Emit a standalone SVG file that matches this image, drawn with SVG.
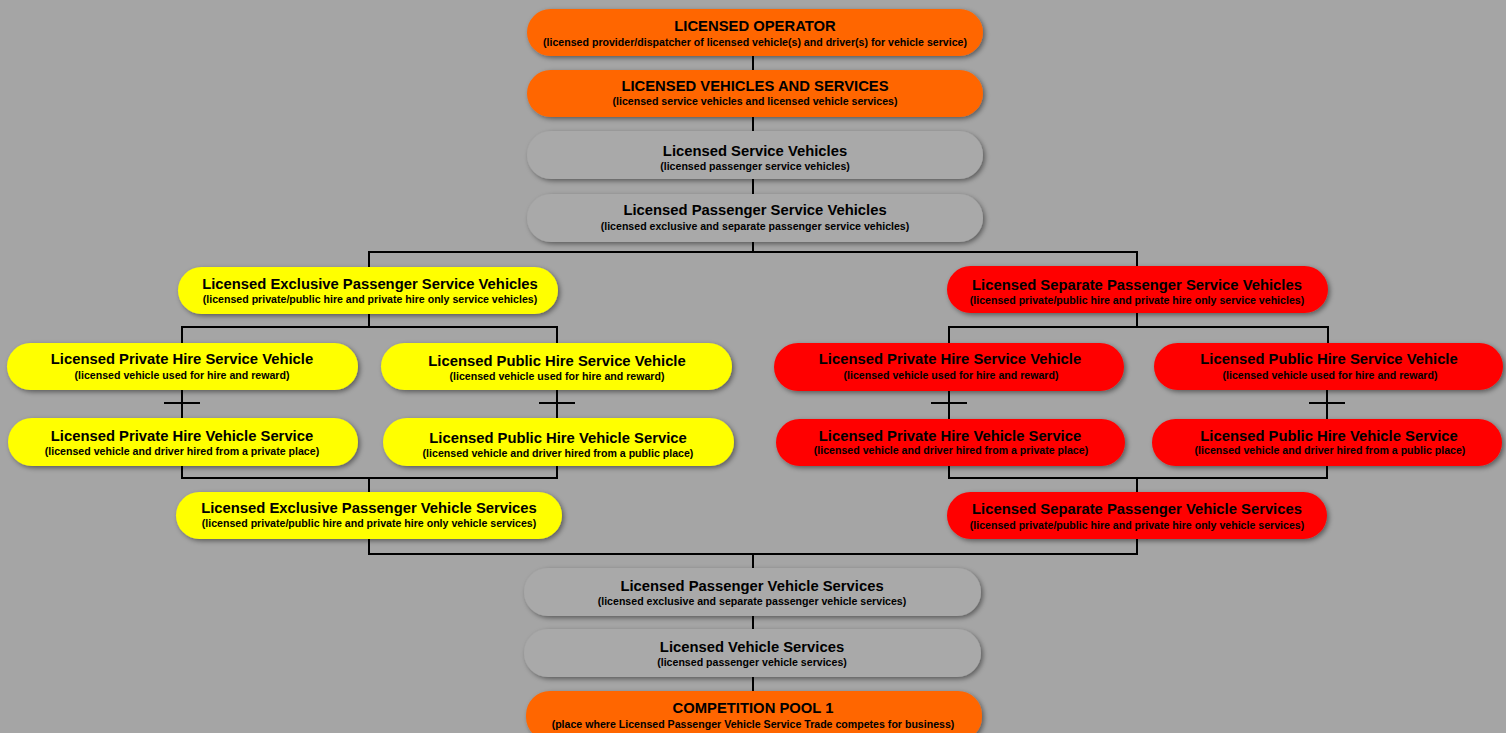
<svg xmlns="http://www.w3.org/2000/svg" width="1506" height="733" viewBox="0 0 1506 733">
<defs>
<filter id="sh" x="-10%" y="-30%" width="120%" height="170%">
<feDropShadow dx="2" dy="2" stdDeviation="2.5" flood-color="#000" flood-opacity="0.45"/>
</filter>
<style>
.n{filter:url(#sh)}
.or{fill:#ff6600}
.gy{fill:#a9a9a9}
.ye{fill:#ffff00}
.rd{fill:#ff0000}
text{font-family:"Liberation Sans",Arial,sans-serif;font-weight:bold;fill:#000;text-anchor:middle}
.t{font-size:14.8px}
.s{font-size:10.6px}
.c line{stroke:#000;stroke-width:2}
</style>
</defs>
<rect width="1506" height="733" fill="#a5a5a5"/>
<g class="c">
<line x1="753" y1="56" x2="753" y2="70"/>
<line x1="753" y1="117" x2="753" y2="131"/>
<line x1="753" y1="179" x2="753" y2="194"/>
<line x1="753" y1="242" x2="753" y2="253"/>
<line x1="368" y1="252" x2="1138" y2="252"/>
<line x1="369" y1="251" x2="369" y2="267"/>
<line x1="1137" y1="251" x2="1137" y2="266"/>
<line x1="369" y1="314" x2="369" y2="328"/>
<line x1="181" y1="327" x2="558" y2="327"/>
<line x1="182" y1="326" x2="182" y2="343"/>
<line x1="557" y1="326" x2="557" y2="343"/>
<line x1="182" y1="390" x2="182" y2="418"/>
<line x1="164" y1="403" x2="200" y2="403"/>
<line x1="557" y1="390" x2="557" y2="418"/>
<line x1="539" y1="403" x2="575" y2="403"/>
<line x1="182" y1="466" x2="182" y2="479"/>
<line x1="557" y1="466" x2="557" y2="479"/>
<line x1="181" y1="478" x2="558" y2="478"/>
<line x1="369" y1="478" x2="369" y2="492"/>
<line x1="1137" y1="313" x2="1137" y2="328"/>
<line x1="948" y1="327" x2="1329" y2="327"/>
<line x1="949" y1="326" x2="949" y2="343"/>
<line x1="1328" y1="326" x2="1328" y2="343"/>
<line x1="949" y1="391" x2="949" y2="419"/>
<line x1="931" y1="403" x2="967" y2="403"/>
<line x1="1327" y1="390" x2="1327" y2="419"/>
<line x1="1309" y1="403" x2="1345" y2="403"/>
<line x1="949" y1="466" x2="949" y2="479"/>
<line x1="1327" y1="466" x2="1327" y2="479"/>
<line x1="948" y1="478" x2="1328" y2="478"/>
<line x1="1137" y1="478" x2="1137" y2="492"/>
<line x1="369" y1="539" x2="369" y2="555"/>
<line x1="1137" y1="539" x2="1137" y2="555"/>
<line x1="368" y1="554" x2="1138" y2="554"/>
<line x1="753" y1="554" x2="753" y2="568"/>
<line x1="753" y1="616" x2="753" y2="629"/>
<line x1="753" y1="677" x2="753" y2="691"/>
</g>
<g id="operator"><rect class="n or" x="527" y="9" width="456" height="47" rx="23.5"/><text class="t" x="755" y="31">LICENSED OPERATOR</text><text class="s" x="755" y="46">(licensed provider/dispatcher of licensed vehicle(s) and driver(s) for vehicle service)</text></g>
<g id="vehicles-services"><rect class="n or" x="527" y="70" width="456" height="47" rx="23.5"/><text class="t" x="755" y="91">LICENSED VEHICLES AND SERVICES</text><text class="s" x="755" y="105">(licensed service vehicles and licensed vehicle services)</text></g>
<g id="service-vehicles"><rect class="n gy" x="527" y="131" width="456" height="48" rx="24"/><text class="t" x="755" y="156">Licensed Service Vehicles</text><text class="s" x="755" y="170">(licensed passenger service vehicles)</text></g>
<g id="passenger-service-vehicles"><rect class="n gy" x="527" y="194" width="456" height="48" rx="24"/><text class="t" x="755" y="215">Licensed Passenger Service Vehicles</text><text class="s" x="755" y="230">(licensed exclusive and separate passenger service vehicles)</text></g>
<g id="exclusive-psv"><rect class="n ye" x="178" y="267" width="380" height="47" rx="23.5"/><text class="t" x="370" y="289">Licensed Exclusive Passenger Service Vehicles</text><text class="s" x="370" y="303">(licensed private/public hire and private hire only service vehicles)</text></g>
<g id="y-private-vehicle"><rect class="n ye" x="7" y="343" width="351" height="47" rx="23.5"/><text class="t" x="182" y="364">Licensed Private Hire Service Vehicle</text><text class="s" x="182" y="379">(licensed vehicle used for hire and reward)</text></g>
<g id="y-public-vehicle"><rect class="n ye" x="381" y="343" width="351" height="47" rx="23.5"/><text class="t" x="557" y="366">Licensed Public Hire Service Vehicle</text><text class="s" x="557" y="380">(licensed vehicle used for hire and reward)</text></g>
<g id="y-private-service"><rect class="n ye" x="8" y="418" width="350" height="48" rx="24"/><text class="t" x="182" y="441">Licensed Private Hire Vehicle Service</text><text class="s" x="182" y="455">(licensed vehicle and driver hired from a private place)</text></g>
<g id="y-public-service"><rect class="n ye" x="383" y="418" width="351" height="48" rx="24"/><text class="t" x="558" y="443">Licensed Public Hire Vehicle Service</text><text class="s" x="558" y="457">(licensed vehicle and driver hired from a public place)</text></g>
<g id="exclusive-pvs"><rect class="n ye" x="176" y="492" width="386" height="47" rx="23.5"/><text class="t" x="369" y="513">Licensed Exclusive Passenger Vehicle Services</text><text class="s" x="369" y="527">(licensed private/public hire and private hire only vehicle services)</text></g>
<g id="separate-psv"><rect class="n rd" x="947" y="266" width="381" height="47" rx="23.5"/><text class="t" x="1137" y="290">Licensed Separate Passenger Service Vehicles</text><text class="s" x="1137" y="304">(licensed private/public hire and private hire only service vehicles)</text></g>
<g id="r-private-vehicle"><rect class="n rd" x="774" y="343" width="350" height="48" rx="24"/><text class="t" x="950" y="364">Licensed Private Hire Service Vehicle</text><text class="s" x="951" y="379">(licensed vehicle used for hire and reward)</text></g>
<g id="r-public-vehicle"><rect class="n rd" x="1154" y="343" width="349" height="47" rx="23.5"/><text class="t" x="1329" y="364">Licensed Public Hire Service Vehicle</text><text class="s" x="1330" y="379">(licensed vehicle used for hire and reward)</text></g>
<g id="r-private-service"><rect class="n rd" x="776" y="419" width="349" height="47" rx="23.5"/><text class="t" x="950" y="441">Licensed Private Hire Vehicle Service</text><text class="s" x="951" y="454">(licensed vehicle and driver hired from a private place)</text></g>
<g id="r-public-service"><rect class="n rd" x="1152" y="419" width="350" height="47" rx="23.5"/><text class="t" x="1329" y="441">Licensed Public Hire Vehicle Service</text><text class="s" x="1330" y="454">(licensed vehicle and driver hired from a public place)</text></g>
<g id="separate-pvs"><rect class="n rd" x="947" y="492" width="380" height="47" rx="23.5"/><text class="t" x="1137" y="514">Licensed Separate Passenger Vehicle Services</text><text class="s" x="1137" y="529">(licensed private/public hire and private hire only vehicle services)</text></g>
<g id="passenger-vehicle-services"><rect class="n gy" x="524" y="568" width="457" height="48" rx="24"/><text class="t" x="752" y="591">Licensed Passenger Vehicle Services</text><text class="s" x="752" y="605">(licensed exclusive and separate passenger vehicle services)</text></g>
<g id="vehicle-services"><rect class="n gy" x="524" y="629" width="457" height="48" rx="24"/><text class="t" x="752" y="652">Licensed Vehicle Services</text><text class="s" x="752" y="666">(licensed passenger vehicle services)</text></g>
<g id="competition-pool"><rect class="n or" x="526" y="691" width="456" height="50" rx="24"/><text class="t" x="753" y="713">COMPETITION POOL 1</text><text class="s" x="753" y="728">(place where Licensed Passenger Vehicle Service Trade competes for business)</text></g>
</svg>
